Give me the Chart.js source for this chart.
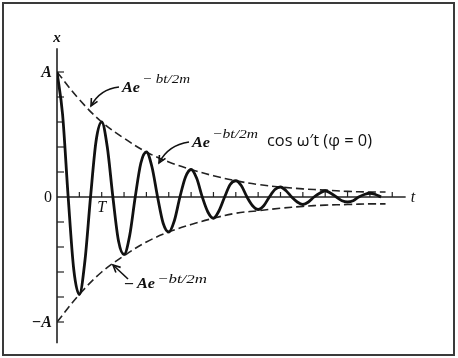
<!DOCTYPE html>
<html><head><meta charset="utf-8">
<script src="https://cdn.jsdelivr.net/npm/chart.js@4/dist/chart.umd.min.js"></script>
<style>html,body{margin:0;padding:0;background:#fff;overflow:hidden}canvas{display:block}</style>
</head><body><canvas id="c" width="458" height="358"></canvas>
<script>
// Damped oscillation x(t) = A e^{-bt/2m} cos(w't) (units of A, t in tick units)
const curveT = [0,0.25,0.5,0.75,1,1.25,1.5,1.75,2,2.25,2.5,2.75,3,3.25,3.5,3.75,4,4.25,4.5,4.75,5,5.25,5.5,5.75,6,6.25,6.5,6.75,7,7.25,7.5,7.75,8,8.25,8.5,8.75,9,9.25,9.5,9.75,10,10.25,10.5,10.75,11,11.25,11.5,11.75,12,12.25,12.5,12.75,13,13.25,13.5,13.75,14,14.25,14.5];
const curveX = [1.00,0.66,0,-0.58,-0.78,-0.51,0,0.45,0.60,0.40,0,-0.35,-0.46,-0.31,0,0.27,0.36,0.24,0,-0.21,-0.28,-0.19,0,0.16,0.22,0.15,0,-0.12,-0.17,-0.11,0,0.10,0.13,0.09,0,-0.07,-0.10,-0.07,0,0.06,0.08,0.05,0,-0.04,-0.06,-0.04,0,0.03,0.05,0.03,0,-0.03,-0.04,-0.03,0,0.02,0.03,0.02,0];
// Envelopes +/- A e^{-bt/2m}
const envT = [0,1,2,3,4,5,6,7,8,9,10,11,12,13,14,14.7];
const envUpper = [1.00,0.78,0.60,0.47,0.36,0.28,0.22,0.17,0.13,0.10,0.08,0.065,0.055,0.045,0.04,0.04];
const envLower = [-1.00,-0.78,-0.60,-0.47,-0.36,-0.28,-0.22,-0.17,-0.13,-0.11,-0.09,-0.075,-0.065,-0.06,-0.055,-0.055];
// Axis ticks and labels
const xTickValues = [1,2,3,4,5,6,7,8,9,10,11,12,13,14,15];
const xLabelValues = [2];
const xLabelTexts = ['T'];
const yTickValues = [-1,-0.8,-0.6,-0.4,-0.2,0.2,0.4,0.6,0.8,1];
const yLabelValues = [1,0,-1];
const yLabelTexts = ['A','0','\u2212A'];
const xAxisName = 't';
const yAxisName = 'x';
const xAxisEnd = 15.6;
const yAxisTop = 1.19, yAxisBottom = -1.17;

const SERIF = "'Liberation Serif','DejaVu Serif',serif";
const SANS = "'Open Sans','DejaVu Sans',sans-serif";

function fitText(ctx, text, x, y, w, font) {
  ctx.save();
  ctx.font = font;
  const m = ctx.measureText(text).width;
  ctx.translate(x, y);
  ctx.scale(w / m, 1);
  ctx.textAlign = 'left';
  ctx.textBaseline = 'alphabetic';
  ctx.fillText(text, 0, 0);
  ctx.restore();
}
function arrowHead(ctx, tx, ty, fx, fy) {
  const a = Math.atan2(ty - fy, tx - fx);
  const L = 8, s = 0.45;
  ctx.beginPath();
  ctx.moveTo(tx - L * Math.cos(a - s), ty - L * Math.sin(a - s));
  ctx.lineTo(tx, ty);
  ctx.lineTo(tx - L * Math.cos(a + s), ty - L * Math.sin(a + s));
  ctx.stroke();
}

const decor = {
  id: 'decor',
  beforeDatasetsDraw(chart) {
    const ctx = chart.ctx, xs = chart.scales.x, ys = chart.scales.y;
    ctx.save();
    // frame
    ctx.strokeStyle = '#3a3a3a'; ctx.lineWidth = 2;
    ctx.strokeRect(3, 3, 451, 352);
    const x0 = xs.getPixelForValue(0), y0 = ys.getPixelForValue(0);
    ctx.strokeStyle = '#222'; ctx.lineWidth = 1.6;
    // y axis
    ctx.beginPath();
    ctx.moveTo(x0, ys.getPixelForValue(yAxisTop));
    ctx.lineTo(x0, ys.getPixelForValue(yAxisBottom));
    ctx.stroke();
    // x axis
    ctx.beginPath();
    ctx.moveTo(x0, y0);
    ctx.lineTo(xs.getPixelForValue(xAxisEnd), y0);
    ctx.stroke();
    ctx.lineWidth = 1.2;
    yTickValues.forEach(v => {
      const py = ys.getPixelForValue(v);
      ctx.beginPath(); ctx.moveTo(x0, py); ctx.lineTo(x0 + 7, py); ctx.stroke();
    });
    xTickValues.forEach(v => {
      const px = xs.getPixelForValue(v);
      ctx.beginPath(); ctx.moveTo(px, y0); ctx.lineTo(px, y0 - 5); ctx.stroke();
    });
    ctx.fillStyle = '#111';
    // y labels
    ctx.textAlign = 'right'; ctx.textBaseline = 'middle';
    yLabelValues.forEach((v, i) => {
      const t = yLabelTexts[i];
      ctx.font = (t === '0' ? '' : 'italic bold ') + '16px ' + SERIF;
      ctx.fillText(t, x0 - 5, ys.getPixelForValue(v) + 1);
    });
    // x labels
    ctx.textAlign = 'center'; ctx.textBaseline = 'top';
    ctx.font = 'italic 16px ' + SERIF;
    xLabelValues.forEach((v, i) => ctx.fillText(xLabelTexts[i], xs.getPixelForValue(v), y0 + 3));
    // axis names
    ctx.textBaseline = 'middle';
    ctx.font = 'italic bold 15px ' + SERIF;
    ctx.fillText(yAxisName, x0, ys.getPixelForValue(yAxisTop) - 10);
    ctx.textAlign = 'left';
    ctx.font = 'italic 16px ' + SERIF;
    ctx.fillText(xAxisName, xs.getPixelForValue(xAxisEnd) + 5, y0 + 1);
    ctx.restore();
  },
  afterDraw(chart) {
    const ctx = chart.ctx;
    ctx.save();
    ctx.fillStyle = '#111'; ctx.strokeStyle = '#111'; ctx.lineWidth = 1.6;
    const big = 'italic bold 15px ' + SERIF, sup = 'italic 13px ' + SERIF;
    // annotation 1: upper envelope
    fitText(ctx, 'Ae', 122, 92, 18, big);
    fitText(ctx, '\u2212 bt/2m', 142, 83, 48, sup);
    ctx.beginPath(); ctx.moveTo(119, 87); ctx.quadraticCurveTo(100, 89, 91, 106); ctx.stroke();
    arrowHead(ctx, 91, 106, 97, 95);
    // annotation 2: curve
    fitText(ctx, 'Ae', 192, 147, 18, big);
    fitText(ctx, '\u2212bt/2m', 212, 138, 46, sup);
    fitText(ctx, 'cos \u03c9\u2032t (\u03c6 = 0)', 267, 146, 105, '16px ' + SANS);
    ctx.beginPath(); ctx.moveTo(189, 142); ctx.quadraticCurveTo(168, 145, 159, 163); ctx.stroke();
    arrowHead(ctx, 159, 163, 165, 152);
    // annotation 3: lower envelope
    fitText(ctx, '\u2212', 124, 289, 10, 'bold 16px ' + SERIF);
    fitText(ctx, 'Ae', 137, 288, 18, big);
    fitText(ctx, '\u2212bt/2m', 157, 283, 50, sup);
    ctx.beginPath(); ctx.moveTo(128, 279); ctx.lineTo(113, 265); ctx.stroke();
    arrowHead(ctx, 113, 265, 128, 279);
    ctx.restore();
  }
};

new Chart(document.getElementById('c'), {
  type: 'line',
  data: {
    datasets: [
      { data: curveT.map((t, i) => ({ x: t, y: curveX[i] })), borderColor: '#111', borderWidth: 2.8,
        pointRadius: 0, tension: 0.4, cubicInterpolationMode: 'monotone', fill: false },
      { data: envT.map((t, i) => ({ x: t, y: envUpper[i] })), borderColor: '#222', borderWidth: 1.6,
        borderDash: [8, 4], pointRadius: 0, tension: 0.4, fill: false },
      { data: envT.map((t, i) => ({ x: t, y: envLower[i] })), borderColor: '#222', borderWidth: 1.6,
        borderDash: [8, 4], pointRadius: 0, tension: 0.4, fill: false }
    ]
  },
  options: {
    responsive: false, animation: false, devicePixelRatio: 1,
    layout: { padding: { left: 57, right: 43.4, top: 47, bottom: 11 } },
    plugins: { legend: { display: false }, tooltip: { enabled: false } },
    scales: {
      x: { type: 'linear', min: 0, max: 16, display: false },
      y: { type: 'linear', min: -1.2, max: 1.2, display: false }
    }
  },
  plugins: [decor]
});
</script></body></html>
